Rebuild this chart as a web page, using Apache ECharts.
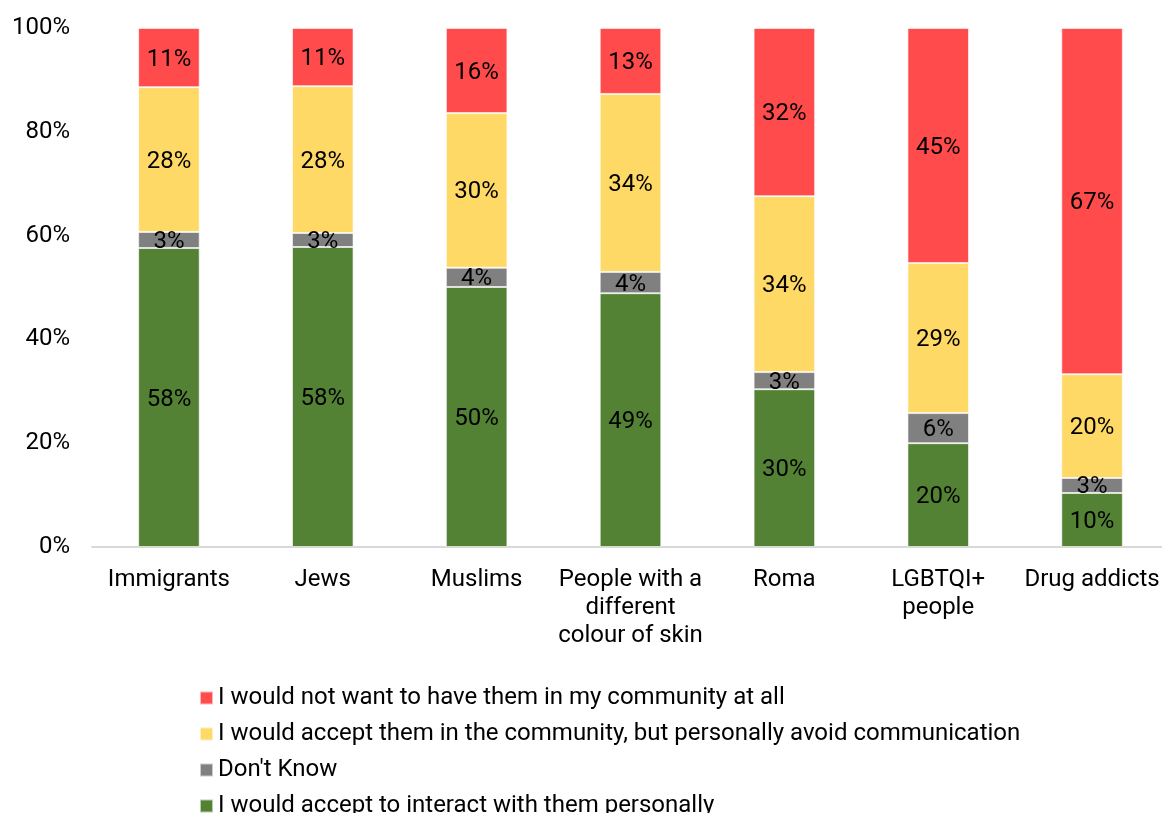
<!DOCTYPE html>
<html>
<head>
<meta charset="utf-8">
<script src="https://cdn.jsdelivr.net/npm/echarts@6/dist/echarts.min.js"></script>
<style>
  html, body { margin: 0; padding: 0; background: #fff; overflow: hidden; }
  #chart { width: 1170px; height: 813px; }
</style>
</head>
<body>
<div id="chart"></div>
<script>
// categories and shares (percent of respondents)
var categories = ['Immigrants', 'Jews', 'Muslims', 'People with a\ndifferent\ncolour of skin', 'Roma', 'LGBTQI+\npeople', 'Drug addicts'];
var interact = [57.6, 57.8, 50.1, 48.9, 30.4, 20.0, 10.4];
var dontKnow = [3.1, 2.7, 3.7, 4.1, 3.3, 5.8, 2.9];
var avoid = [27.9, 28.3, 29.8, 34.3, 33.9, 28.9, 20.0];
var notWant = [11.4, 11.2, 16.4, 12.7, 32.4, 45.3, 66.7];
var yTicks = [0, 20, 40, 60, 80, 100];

var names = [
    'I would not want to have them in my community at all',
    'I would accept them in the community, but personally avoid communication',
    "Don't Know",
    'I would accept to interact with them personally'
];

var font = 'Roboto';

function makeSeries(name, data, color) {
    return {
        name: name,
        type: 'bar',
        stack: 'total',
        barWidth: '40%',
        data: data,
        itemStyle: { color: color, borderColor: 'rgba(255,255,255,0.6)', borderWidth: 1 },
        label: {
            show: true,
            position: 'inside',
            offset: [0, 2],
            color: '#000',
            fontFamily: font,
            fontSize: 24,
            formatter: function (p) { return Math.round(p.value) + '%'; }
        }
    };
}

var chart = echarts.init(document.getElementById('chart'));

chart.setOption({
    backgroundColor: '#fff',
    animation: false,
    grid: { left: 92, top: 28, width: 1077, height: 519 },
    legend: {
        orient: 'vertical',
        left: 194,
        top: 681,
        height: 200,
        itemWidth: 13,
        itemHeight: 13,
        itemGap: 12,
        icon: 'rect',
        data: names,
        textStyle: { fontFamily: font, fontSize: 24, color: '#000', lineHeight: 24 }
    },
    xAxis: {
        type: 'category',
        data: categories,
        axisLine: { lineStyle: { color: '#d9d9d9', width: 2 } },
        axisTick: { show: false },
        axisLabel: { fontFamily: font, fontSize: 24, color: '#000', lineHeight: 28, margin: 19, interval: 0 }
    },
    yAxis: {
        type: 'value',
        min: yTicks[0],
        max: yTicks[yTicks.length - 1],
        interval: 20,
        splitLine: { show: false },
        axisLine: { show: false },
        axisTick: { show: false },
        axisLabel: { fontFamily: font, fontSize: 24, color: '#000', margin: 22, padding: [4, 0, 0, 0], formatter: '{value}%' }
    },
    series: [
        makeSeries(names[3], interact, '#548235'),
        makeSeries(names[2], dontKnow, '#808080'),
        makeSeries(names[1], avoid, '#FFD966'),
        makeSeries(names[0], notWant, '#FF4B4B')
    ]
});
</script>
</body>
</html>
